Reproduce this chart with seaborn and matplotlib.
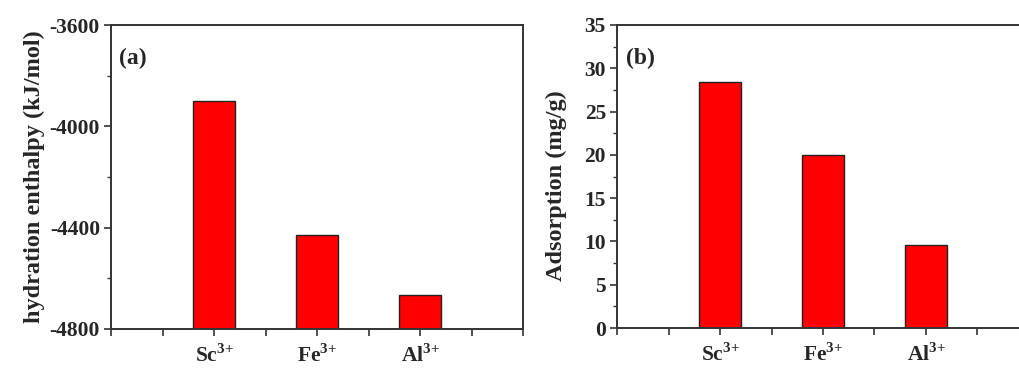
import numpy as np
import pandas as pd
import matplotlib
matplotlib.use("Agg")
import matplotlib.pyplot as plt
from matplotlib.ticker import MultipleLocator, FixedLocator, FixedFormatter
import seaborn as sns

ions = ["Sc", "Fe", "Al"]
ion_labels = [r"$\mathbf{Sc}^{\mathbf{3{+}}}$", r"$\mathbf{Fe}^{\mathbf{3{+}}}$", r"$\mathbf{Al}^{\mathbf{3{+}}}$"]
enthalpy = [-3900, -4430, -4665]
adsorption = [28.4, 20.0, 9.6]
enthalpy_base = -4800

sns.set_theme(style="ticks")
plt.rcParams['font.family'] = ['Liberation Serif', 'DejaVu Serif']
plt.rcParams['font.weight'] = 'bold'
plt.rcParams['axes.unicode_minus'] = False
plt.rcParams['mathtext.fontset'] = 'custom'
plt.rcParams['mathtext.rm'] = 'Liberation Serif'
plt.rcParams['mathtext.bf'] = 'Liberation Serif:bold'

W, H = 1019, 369
fig = plt.figure(figsize=(W / 100, H / 100), dpi=100)
ax1 = fig.add_axes([111 / W, (H - 329) / H, 412 / W, 304 / H])
ax2 = fig.add_axes([617 / W, (H - 328) / H, 412 / W, 303 / H])

df1 = pd.DataFrame({"ion": ions, "h": np.array(enthalpy) - enthalpy_base})
df2 = pd.DataFrame({"ion": ions, "a": adsorption})

sns.barplot(data=df1, x="ion", y="h", ax=ax1, color="#ff0000", saturation=1,
            width=0.4, edgecolor="#222222", linewidth=1.0, bottom=enthalpy_base,
            errorbar=None)
sns.barplot(data=df2, x="ion", y="a", ax=ax2, color="#ff0000", saturation=1,
            width=0.4, edgecolor="#222222", linewidth=1.0, errorbar=None)

fs = 15.5
for ax in (ax1, ax2):
    ax.set_xlim(-1, 3)
    ticks = np.arange(-1, 3.01, 0.5)
    ax.xaxis.set_major_locator(FixedLocator(ticks))
    labs = []
    for t in ticks:
        if abs(t - round(t)) < 1e-9 and 0 <= round(t) <= 2:
            labs.append(ion_labels[int(round(t))])
        else:
            labs.append("")
    ax.xaxis.set_major_formatter(FixedFormatter(labs))
    ax.set_xlabel("")
    for s in ax.spines.values():
        s.set_visible(True)
        s.set_color("#333333")
        s.set_linewidth(1.4)
    ax.tick_params(axis="both", which="major", direction="out", length=5,
                   width=1.2, color="#333333", labelsize=fs, pad=3)
    ax.tick_params(axis="y", which="minor", direction="out", length=3,
                   width=1.0, color="#333333")
    ax.tick_params(axis="x", which="major", pad=6)
    ax.tick_params(top=False, right=False)

ax1.set_ylim(-4800, -3600)
ax1.yaxis.set_major_locator(MultipleLocator(400))
ax1.yaxis.set_minor_locator(MultipleLocator(200))
ax1.set_ylabel("hydration enthalpy (kJ/mol)", fontsize=17.5, fontweight="bold", labelpad=3)

ax2.set_ylim(0, 35)
ax2.yaxis.set_major_locator(MultipleLocator(5))
ax2.yaxis.set_minor_locator(MultipleLocator(2.5))
ax2.set_ylabel("Adsorption (mg/g)", fontsize=17.5, fontweight="bold")
ax2.yaxis.set_label_coords(-0.121, 0.47)

for ax in (ax1, ax2):
    for lab in ax.get_yticklabels():
        lab.set_fontweight("bold")

ax1.text(0.02, 0.89, "(a)", transform=ax1.transAxes, fontsize=17,
         fontweight="bold", va="center", ha="left")
ax2.text(0.022, 0.89, "(b)", transform=ax2.transAxes, fontsize=17,
         fontweight="bold", va="center", ha="left")

fig.savefig("out.png", dpi=100)
